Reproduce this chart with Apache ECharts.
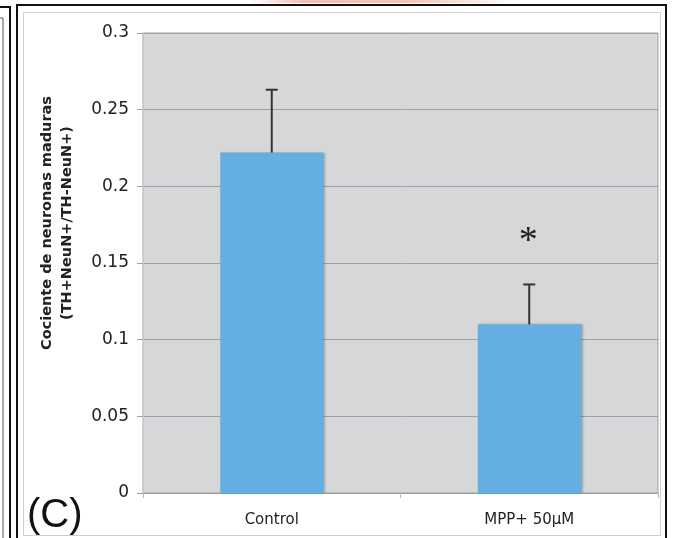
<!DOCTYPE html>
<html>
<head>
<meta charset="utf-8">
<script src="https://cdn.jsdelivr.net/npm/echarts@6/dist/echarts.min.js"></script>
<style>
  html, body { margin: 0; padding: 0; background: #fff; }
  #chart { width: 673px; height: 538px; }
</style>
</head>
<body>
<div id="chart"></div>
<script>
const categories = ['Control', 'MPP+ 50μM']
const means = [0.222, 0.11]
const errors = [0.041, 0.026]
const marks = ['', '*']
const yTicks = { min: 0, max: 0.3, interval: 0.05 }

const barColor = '#63afe1'
const lineGray = '#a0a0a4'

const chart = echarts.init(document.getElementById('chart'))

const errData = categories.map((c, i) => [i, means[i], errors[i]])

const option = {
    animation: false,
    grid: {
        left: 143,
        right: 15,
        top: 33,
        bottom: 45,
        show: true,
        backgroundColor: '#d6d7d9',
        borderColor: lineGray,
        borderWidth: 1
    },
    xAxis: {
        type: 'category',
        data: categories,
        axisLine: { lineStyle: { color: lineGray } },
        axisTick: { show: true, length: 5, lineStyle: { color: '#bbb' } },
        axisLabel: {
            color: '#222',
            fontFamily: 'DejaVu Sans',
            fontSize: 15,
            margin: 20
        }
    },
    yAxis: {
        type: 'value',
        min: yTicks.min,
        max: yTicks.max,
        interval: yTicks.interval,
        name: 'Cociente de neuronas maduras\n(TH+NeuN+/TH-NeuN+)',
        nameLocation: 'middle',
        nameRotate: 90,
        nameGap: 66,
        nameTextStyle: {
            color: '#222',
            fontFamily: 'DejaVu Sans',
            fontWeight: 'bold',
            fontSize: 14.5,
            lineHeight: 20,
            padding: [0, 0, 0, 80]
        },
        axisLine: { show: true, lineStyle: { color: '#c8c8c8' } },
        axisTick: { show: true, length: 6, lineStyle: { color: lineGray } },
        axisLabel: {
            color: '#222',
            fontFamily: 'DejaVu Sans',
            fontSize: 17,
            margin: 14
        },
        splitLine: { lineStyle: { color: lineGray, width: 1 } }
    },
    series: [
        {
            type: 'bar',
            data: means,
            barWidth: '40%',
            itemStyle: {
                color: barColor,
                shadowColor: 'rgba(0,0,0,0.25)',
                shadowBlur: 2,
                shadowOffsetX: 2
            },
            z: 2
        },
        {
            type: 'custom',
            data: errData,
            z: 3,
            renderItem(params, api) {
                const i = api.value(0)
                const m = api.value(1)
                const e = api.value(2)
                const base = api.coord([i, m])
                const top = api.coord([i, m + e])
                const half = 6
                const style = { stroke: '#333', lineWidth: 2 }
                const children = [
                    { type: 'line', shape: { x1: base[0], y1: base[1], x2: top[0], y2: top[1] }, style },
                    { type: 'line', shape: { x1: top[0] - half, y1: top[1], x2: top[0] + half, y2: top[1] }, style }
                ]
                const mark = marks[params.dataIndex]
                if (mark) {
                    children.push({
                        type: 'text',
                        style: {
                            text: mark,
                            x: top[0] - 1,
                            y: top[1] - 42,
                            align: 'center',
                            verticalAlign: 'middle',
                            fill: '#222',
                            font: '38px "Liberation Serif"'
                        }
                    })
                }
                return { type: 'group', children }
            }
        }
    ],
    graphic: [
        // fragment of the neighbouring figure at the top
        {
            type: 'rect', silent: true, z: -1,
            shape: { x: 250, y: 0, width: 270, height: 3 },
            style: {
                fill: new echarts.graphic.LinearGradient(0, 0, 1, 0, [
                    { offset: 0, color: 'rgba(220,120,110,0)' },
                    { offset: 0.2, color: 'rgba(215,110,95,0.45)' },
                    { offset: 0.6, color: 'rgba(225,130,100,0.45)' },
                    { offset: 1, color: 'rgba(220,140,120,0)' }
                ])
            }
        },
        // left neighbour panel edge
        { type: 'polyline', silent: true, shape: { points: [[0, 7], [10, 7], [10, 538]] }, style: { stroke: '#111', lineWidth: 2, fill: null } },
        { type: 'polyline', silent: true, shape: { points: [[0, 18], [3, 18], [3, 538]] }, style: { stroke: '#555', lineWidth: 1, fill: null } },
        // panel frame
        { type: 'rect', silent: true, shape: { x: 17, y: 5, width: 649, height: 540 }, style: { stroke: '#111', lineWidth: 2, fill: null } },
        { type: 'rect', silent: true, shape: { x: 23.5, y: 12.5, width: 637, height: 523 }, style: { stroke: '#cfcfcf', lineWidth: 1, fill: null } },
        // panel letter
        {
            type: 'text', silent: true,
            style: { text: '(C)', x: 27, y: 536, verticalAlign: 'bottom', fill: '#111', font: '40px "Liberation Sans"' }
        }
    ]
}

chart.setOption(option)
</script>
</body>
</html>
